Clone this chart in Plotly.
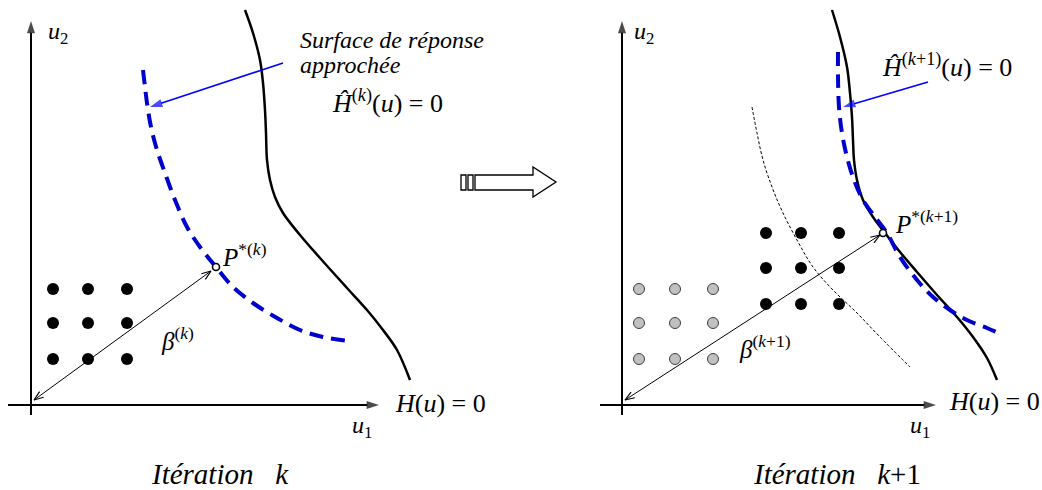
import math
import plotly.graph_objects as go
from plotly.subplots import make_subplots

# ---------------- data (u1, u2 units = pixels from the axis origin) ----------------
# Left panel: iteration k
L_H_U1 = [214, 222, 229, 232, 234, 235, 236, 239, 244, 252, 269, 289, 316, 336, 352, 366, 379]
L_H_U2 = [395, 372, 345, 322, 295, 272, 245, 225, 208, 192, 170, 147, 117, 95, 75, 55, 25]
L_HHAT_U1 = [112, 114, 116, 120, 126, 134, 144, 156, 169, 185, 202, 222, 246, 269, 292, 319]
L_HHAT_U2 = [335, 318, 302, 278, 255, 232, 205, 178, 158, 138, 118, 102, 87, 75, 68, 64]
L_DOE_U1 = [22, 57, 96]
L_DOE_U2 = [116, 82, 46]
L_PSTAR = (185, 138)
L_BETA_FROM = (3, 5)
L_BETA_TO = (180, 134)
L_NOTE_FROM = (252, 342)
L_NOTE_TO = (119, 298)

# Right panel: iteration k+1
R_H_U1 = [210, 218, 225, 228, 230, 231, 232, 235, 241, 251, 263, 278, 295, 315, 335, 351, 365, 375]
R_H_U2 = [395, 368, 338, 312, 288, 265, 245, 225, 205, 188, 172, 153, 133, 110, 88, 68, 47, 25]
R_HHAT_U1 = [216, 216, 217, 220, 225, 232, 241, 253, 265, 278, 295, 311, 328, 345, 365, 381]
R_HHAT_U2 = [353, 328, 298, 272, 248, 225, 205, 188, 172, 148, 125, 108, 95, 85, 77, 70]
R_OLD_U1 = [130, 135, 141, 150, 161, 175, 191, 211, 235, 258, 288]
R_OLD_U2 = [298, 272, 245, 218, 192, 165, 138, 115, 92, 68, 38]
R_DOE_U1 = [144, 179, 217]
R_DOE_U2 = [172, 137, 101]
R_OLDDOE_U1 = [17, 53, 91]
R_OLDDOE_U2 = [116, 82, 46]
R_PSTAR = (261, 172)
R_BETA_FROM = (3, 5)
R_BETA_TO = (258, 170)
R_NOTE_FROM = (306, 323)
R_NOTE_TO = (221, 298)

# axes arrows (u units)
AX_Y_FROM, AX_Y_TO = (0, -10), (0, 384)
L_AX_X_FROM, L_AX_X_TO = (-23, 0), (348, 0)
R_AX_X_FROM, R_AX_X_TO = (-22, 0), (314, 0)

# middle block arrow (pixels of the figure)
MID_BODY_X = [475, 533, 533, 556, 533, 533, 475]
MID_BODY_Y = [175, 175, 167, 182, 197, 190, 190]
MID_BAR1_X = [461, 466]
MID_BAR2_X = [468, 473]
MID_BAR_Y = [175, 190]

W, H = 1042, 490
FONT = "Liberation Serif, Times New Roman, serif"
BLUE_D = "#0000cc"
BLUE_A = "#0000ff"

fig = make_subplots(rows=1, cols=2, horizontal_spacing=0)


def add(tr, col):
    fig.add_trace(tr, row=1, col=col)


def curve(xs, ys, col, color, width, dash="solid"):
    add(go.Scatter(x=xs, y=ys, mode="lines",
                   line=dict(color=color, width=width, dash=dash, shape="spline", smoothing=1),
                   hoverinfo="skip", showlegend=False), col)


def dots(xs, ys, col, fill, size, lc, lw):
    X = [x for y in ys for x in xs]
    Y = [y for y in ys for x in xs]
    add(go.Scatter(x=X, y=Y, mode="markers",
                   marker=dict(color=fill, size=size, line=dict(color=lc, width=lw)),
                   hoverinfo="skip", showlegend=False), col)


def solid_arrow(frm, to, col, color, width, head):
    add(go.Scatter(x=[frm[0], to[0]], y=[frm[1], to[1]], mode="lines+markers",
                   line=dict(color=color, width=width),
                   marker=dict(symbol=["circle", "arrow"], size=[0, head], color=color,
                               angleref="previous", line=dict(width=0)),
                   hoverinfo="skip", showlegend=False), col)


def barb(tip, other, length=10, half=20):
    a = math.atan2(other[1] - tip[1], other[0] - tip[0])
    pts = []
    for s in (-1, 1):
        b = a + s * math.radians(half)
        pts.append((tip[0] + length * math.cos(b), tip[1] + length * math.sin(b)))
    return [pts[0][0], tip[0], pts[1][0]], [pts[0][1], tip[1], pts[1][1]]


def double_arrow(frm, to, col):
    add(go.Scatter(x=[frm[0], to[0]], y=[frm[1], to[1]], mode="lines",
                   line=dict(color="black", width=1), hoverinfo="skip", showlegend=False), col)
    for tip, other in ((to, frm), (frm, to)):
        bx, by = barb(tip, other)
        add(go.Scatter(x=bx, y=by, mode="lines", line=dict(color="black", width=1.2),
                       hoverinfo="skip", showlegend=False), col)


# left panel marks
curve(L_H_U1, L_H_U2, 1, "black", 2.5)
curve(L_HHAT_U1, L_HHAT_U2, 1, BLUE_D, 4, "14px,8px")
dots(L_DOE_U1, L_DOE_U2, 1, "black", 12, "black", 0)
# right panel marks
curve(R_OLD_U1, R_OLD_U2, 2, "black", 1, "3px,2px")
curve(R_H_U1, R_H_U2, 2, "black", 2.5)
curve(R_HHAT_U1, R_HHAT_U2, 2, BLUE_D, 4, "14px,8px")
dots(R_DOE_U1, R_DOE_U2, 2, "black", 12, "black", 0)
dots(R_OLDDOE_U1, R_OLDDOE_U2, 2, "#c0c0c0", 11, "#404040", 1)

# axes
for col, axf, axt in ((1, L_AX_X_FROM, L_AX_X_TO), (2, R_AX_X_FROM, R_AX_X_TO)):
    solid_arrow(AX_Y_FROM, AX_Y_TO, col, "black", 2, 13)
    solid_arrow(axf, axt, col, "black", 2, 13)

# beta arrows and note arrows
double_arrow(L_BETA_FROM, L_BETA_TO, 1)
double_arrow(R_BETA_FROM, R_BETA_TO, 2)
solid_arrow(L_NOTE_FROM, L_NOTE_TO, 1, BLUE_A, 1.6, 13)
solid_arrow(R_NOTE_FROM, R_NOTE_TO, 2, BLUE_A, 1.6, 13)

# P* markers
add(go.Scatter(x=[L_PSTAR[0]], y=[L_PSTAR[1]], mode="markers",
               marker=dict(color="white", size=7, line=dict(color="black", width=1.6)),
               hoverinfo="skip", showlegend=False), 1)
add(go.Scatter(x=[R_PSTAR[0]], y=[R_PSTAR[1]], mode="markers",
               marker=dict(color="white", size=7, line=dict(color="black", width=1.6)),
               hoverinfo="skip", showlegend=False), 2)

anns = []


def txt(pos, s, xr, yr, size, xanchor="left"):
    anns.append(dict(x=pos[0], y=pos[1], xref=xr, yref=yr, text=s, showarrow=False,
                     xanchor=xanchor, yanchor="middle",
                     font=dict(family=FONT, size=size, color="black")))


# texts left
txt((267, 365), "<i>Surface de réponse</i>", "x", "y", 24)
txt((267, 340), "<i>approchée</i>", "x", "y", 24)
txt((299, 304), "<i>Ĥ</i><sup>(<i>k</i>)</sup>(<i>u</i>) = 0", "x", "y", 26)
txt((15, 372), "<i>u</i><sub>2</sub>", "x", "y", 24)
txt((319, -22), "<i>u</i><sub>1</sub>", "x", "y", 24)
txt((189, 150), "<i>P</i><sup>*(<i>k</i>)</sup>", "x", "y", 25)
txt((128, 66), "<i>β</i><sup>(<i>k</i>)</sup>", "x", "y", 25)
txt((362, 2), "<i>H</i>(<i>u</i>) = 0", "x", "y", 26)
txt((189, -69), "<i>Itération   k</i>", "x", "y", 29, xanchor="center")
# texts right
txt((258, 340), "<i>Ĥ</i><sup>(<i>k</i>+1)</sup>(<i>u</i>) = 0", "x2", "y2", 26)
txt((10, 372), "<i>u</i><sub>2</sub>", "x2", "y2", 24)
txt((286, -22), "<i>u</i><sub>1</sub>", "x2", "y2", 24)
txt((271, 183), "<i>P</i><sup>*(<i>k</i>+1)</sup>", "x2", "y2", 25)
txt((115, 58), "<i>β</i><sup>(<i>k</i>+1)</sup>", "x2", "y2", 25)
txt((325, 4), "<i>H</i>(<i>u</i>) = 0", "x2", "y2", 26)
txt((215, -69), "<i>Itération   k</i>+1", "x2", "y2", 29, xanchor="center")


# middle block arrow (paper coordinates)
def px_path(xs, ys):
    pts = [f"{x / W:.5f},{1 - y / H:.5f}" for x, y in zip(xs, ys)]
    return "M" + "L".join(pts) + "Z"


shapes = [dict(type="path", xref="paper", yref="paper", path=px_path(MID_BODY_X, MID_BODY_Y),
               line=dict(color="black", width=1.3), fillcolor="white")]
for bx in (MID_BAR1_X, MID_BAR2_X):
    shapes.append(dict(type="rect", xref="paper", yref="paper",
                       x0=bx[0] / W, x1=bx[1] / W, y0=1 - MID_BAR_Y[1] / H, y1=1 - MID_BAR_Y[0] / H,
                       line=dict(color="black", width=1.3), fillcolor="white"))

fig.update_layout(width=W, height=H, margin=dict(l=0, r=0, t=0, b=0),
                  paper_bgcolor="white", plot_bgcolor="white",
                  annotations=anns, shapes=shapes, showlegend=False)
ax_common = dict(visible=False, showgrid=False, zeroline=False, fixedrange=True)
fig.update_xaxes(**ax_common)
fig.update_yaxes(**ax_common)
fig.update_layout(xaxis=dict(domain=[0, 0.5], range=[-31, 490]),
                  xaxis2=dict(domain=[0.5, 1], range=[-101, 420]),
                  yaxis=dict(range=[-85, 405]), yaxis2=dict(range=[-85, 405]))

fig.write_html("out.html", config={"displayModeBar": False},
               post_script="document.body.style.margin='0';document.body.style.overflow='hidden';")
